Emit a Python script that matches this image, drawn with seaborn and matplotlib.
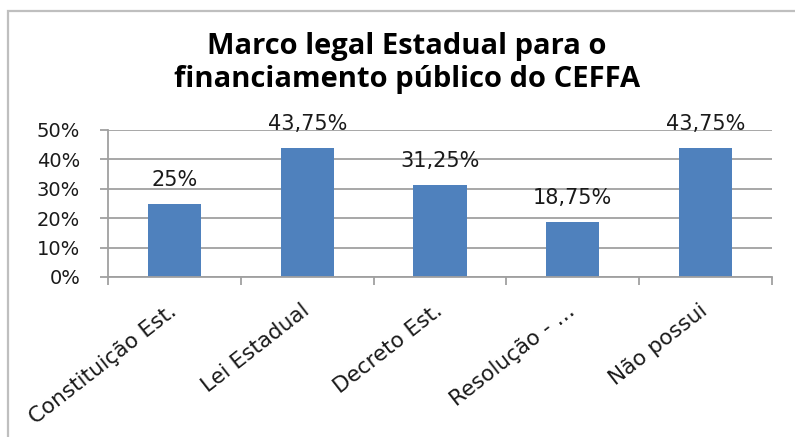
import matplotlib
matplotlib.use('Agg')
import matplotlib.pyplot as plt
import matplotlib.transforms as mtransforms
from matplotlib.ticker import PercentFormatter, FixedLocator
from matplotlib.patches import Rectangle
import seaborn as sns
import pandas as pd

categories = ["Constituição Est.", "Lei Estadual", "Decreto Est.", "Resolução - …", "Não possui"]
values = [25, 43.75, 31.25, 18.75, 43.75]
y_ticks = [0, 10, 20, 30, 40, 50]
title = "Marco legal Estadual para o\nfinanciamento público do CEFFA"

sns.set_theme(style="white")
plt.rcParams['font.family'] = ['DejaVu Sans']

W, H = 795, 437
fig = plt.figure(figsize=(W / 100, H / 100), dpi=100, facecolor='white')
ax = fig.add_axes([108 / W, 1 - 277 / H, (772 - 108) / W, (277 - 130) / H])

df = pd.DataFrame({'cat': categories, 'val': values})
sns.barplot(data=df, x='cat', y='val', color='#4F81BD', width=0.4,
            saturation=1, linewidth=0, ax=ax)

grid_c = '#A0A0A0'
ax.set_xlim(-0.5, len(categories) - 0.5)
ax.set_ylim(0, 50)
ax.set_yticks(y_ticks)
ax.yaxis.set_major_formatter(PercentFormatter(decimals=0))
ax.yaxis.grid(True, color=grid_c, lw=1.3)
ax.xaxis.grid(False)
ax.set_axisbelow(True)
ax.set_xlabel('')
ax.set_ylabel('')
for s in ['top', 'right']:
    ax.spines[s].set_visible(False)
for s in ['left', 'bottom']:
    ax.spines[s].set_color(grid_c)
    ax.spines[s].set_linewidth(1.3)

ax.tick_params(axis='y', which='major', length=6, width=1.3, color=grid_c,
               direction='out', pad=14, labelsize=14, labelcolor='#1a1a1a', left=True)
ax.xaxis.set_minor_locator(FixedLocator([i - 0.5 for i in range(len(categories) + 1)]))
ax.tick_params(axis='x', which='minor', length=6, width=1.3, color=grid_c,
               direction='out', bottom=True)
ax.tick_params(axis='x', which='major', length=0, pad=17, labelsize=15.5,
               labelcolor='#1a1a1a', bottom=True)

offset = mtransforms.ScaledTranslation(6 / 100, 0, fig.dpi_scale_trans)
for lab in ax.get_xticklabels():
    lab.set_rotation(38)
    lab.set_ha('right')
    lab.set_transform(lab.get_transform() + offset)

bar_labels = [f"{v:g}".replace('.', ',') + '%' for v in values]
ax.bar_label(ax.containers[0], labels=bar_labels, padding=10,
             fontsize=15, color='#1a1a1a')

fig.text(407 / W, 1 - 63 / H, title, ha='center', va='center', fontsize=21,
         fontweight='bold', family='Open Sans', linespacing=1.18, color='black')

fig.patches.append(Rectangle((8 / W, -0.1), 1.2, (H - 11) / H + 0.1,
                             transform=fig.transFigure, fill=False,
                             ec='#BFBFBF', lw=1.6))

fig.savefig('out.png', dpi=100, facecolor='white')
